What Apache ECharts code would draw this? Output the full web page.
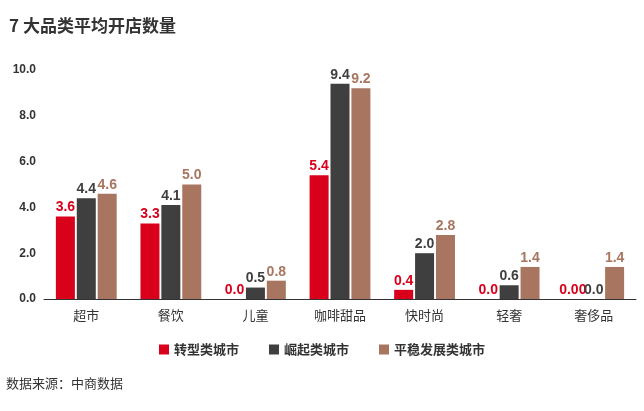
<!DOCTYPE html>
<html>
<head>
<meta charset="UTF-8">
<script src="https://cdn.jsdelivr.net/npm/echarts@6/dist/echarts.min.js"></script>
<style>
html,body{margin:0;padding:0;background:#fff;}
#main{width:644px;height:411px;}
</style>
</head>
<body>
<div id="main"></div>
<script>
var categories = ['超市', '餐饮', '儿童', '咖啡甜品', '快时尚', '轻奢', '奢侈品'];
var transform = [3.6, 3.3, 0.0, 5.4, 0.4, 0.0, 0.00];
var rising = [4.4, 4.1, 0.5, 9.4, 2.0, 0.6, 0.0];
var stable = [4.6, 5.0, 0.8, 9.2, 2.8, 1.4, 1.4];
var seriesNames = ['转型类城市', '崛起类城市', '平稳发展类城市'];
var colors = ['#d9001b', '#3f3f3f', '#a87560'];
var labelColors = ['#d9001b', '#3f3f3f', '#a87560'];

var chart = echarts.init(document.getElementById('main'));
function mk(i, data, fmt) {
  return {
    name: seriesNames[i], type: 'bar', data: data, barWidth: 19, barGap: '10%',
    itemStyle: { color: colors[i] },
    label: {
      show: true, position: 'top', distance: 2, color: labelColors[i],
      fontWeight: 'bold', fontSize: 14, fontFamily: 'Liberation Sans',
      formatter: fmt || function (p) { return p.value.toFixed(1); }
    }
  };
}
chart.setOption({
  animation: false,
  color: colors,
  title: {
    text: '7 大品类平均开店数量', left: 4, top: 12,
    textStyle: { fontSize: 17, fontWeight: 'bold', color: '#333', fontFamily: 'Noto Sans CJK SC' }
  },
  graphic: [{
    type: 'text', left: 6, top: 377,
    style: { text: '数据来源：中商数据', fontSize: 13, fill: '#333', fontFamily: 'Noto Sans CJK SC' }
  }],
  legend: {
    data: seriesNames, top: 338, left: 'center', itemWidth: 10, itemHeight: 10, itemGap: 30,
    icon: 'rect',
    textStyle: { fontSize: 13, fontWeight: 'bold', color: '#333', fontFamily: 'Noto Sans CJK SC' }
  },
  grid: { left: 44, right: 8, top: 70, bottom: 112 },
  xAxis: {
    type: 'category', data: categories,
    axisLine: { lineStyle: { color: '#333', width: 1 } },
    axisTick: { show: false },
    axisLabel: { fontSize: 13, color: '#333', margin: 10, fontFamily: 'Noto Sans CJK SC' }
  },
  yAxis: {
    type: 'value', min: 0, max: 10, interval: 2,
    splitLine: { show: false },
    axisLine: { show: false }, axisTick: { show: false },
    axisLabel: { fontSize: 12, color: '#333', fontWeight: 'bold', formatter: function (v) { return v.toFixed(1); } }
  },
  series: [
    mk(0, transform, function (p) { return p.dataIndex === 6 ? '0.00' : p.value.toFixed(1); }),
    mk(1, rising),
    mk(2, stable)
  ]
});
</script>
</body>
</html>
